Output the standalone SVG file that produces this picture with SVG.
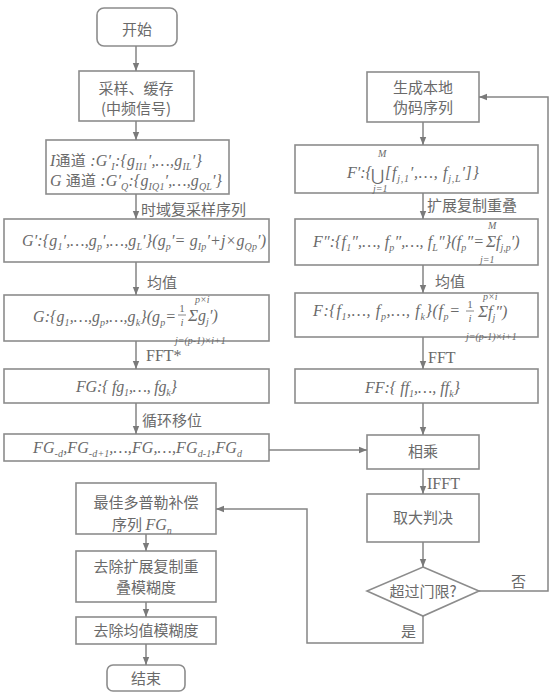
<svg xmlns="http://www.w3.org/2000/svg" width="552" height="695" viewBox="0 0 552 695">
<defs>
<marker id="ah" viewBox="0 0 10 10" refX="10" refY="5" markerWidth="9" markerHeight="8" markerUnits="userSpaceOnUse" orient="auto">
<path d="M0,1 L10,5 L0,9 z" fill="#7a7a7a"/>
</marker>
<style>
.box{fill:#fff;stroke:#8c8c8c;stroke-width:1.6}
.cn{font-family:"Noto Sans CJK SC","Noto Sans",sans-serif;font-size:15px;font-style:normal;fill:#6a6a6a}
.m{font-family:"Liberation Serif","Noto Sans CJK SC",serif;font-style:italic;font-size:16px;fill:#6a6a6a}
.r{font-family:"Liberation Serif",serif;font-style:normal;font-size:16px;fill:#6a6a6a}
.s{font-size:10px}
.fr{font-size:11px}
.ln{fill:none;stroke:#858585;stroke-width:1.5}
.c{text-anchor:middle}
</style>
</defs>
<rect width="552" height="695" fill="#fff"/>

<g id="start"><rect class="box" x="97" y="8" width="80" height="38" rx="7"/><text class="cn c" x="137" y="35">开始</text></g>
<g id="sample"><rect class="box" x="79" y="71" width="115" height="50"/><text class="cn c" x="136" y="94">采样、缓存</text><text class="cn c" x="136" y="114">(中频信号)</text></g>
<g id="iq"><rect class="box" x="46" y="140" width="183" height="54"/>
<text class="m" x="50" y="166" textLength="152">I<tspan class="cn">通道</tspan> :G′<tspan class="s" dy="4">I</tspan><tspan dy="-4">:{g</tspan><tspan class="s" dy="4">II1</tspan><tspan dy="-4">′,…,g</tspan><tspan class="s" dy="4">IL</tspan><tspan dy="-4">′}</tspan></text>
<text class="m" x="50" y="186" textLength="172">G <tspan class="cn">通道</tspan> :G′<tspan class="s" dy="4">Q</tspan><tspan dy="-4">:{g</tspan><tspan class="s" dy="4">IQ1</tspan><tspan dy="-4">′,…,g</tspan><tspan class="s" dy="4">QL</tspan><tspan dy="-4">′}</tspan></text>
</g>
<g id="gprime"><rect class="box" x="4" y="219" width="265" height="43"/>
<text class="m" x="22" y="246" textLength="244">G′:{g<tspan class="s" dy="4">1</tspan><tspan dy="-4">′,…,g</tspan><tspan class="s" dy="4">p</tspan><tspan dy="-4">′,…,g</tspan><tspan class="s" dy="4">L</tspan><tspan dy="-4">′}(g</tspan><tspan class="s" dy="4">p</tspan><tspan dy="-4">′= g</tspan><tspan class="s" dy="4">Ip</tspan><tspan dy="-4">′+j×g</tspan><tspan class="s" dy="4">Qp</tspan><tspan dy="-4">′)</tspan></text>
</g>
<g id="gmean"><rect class="box" x="4" y="295" width="265" height="46"/>
<text class="m" x="33" y="322" textLength="143">G:{g<tspan class="s" dy="4">1</tspan><tspan dy="-4">,…,g</tspan><tspan class="s" dy="4">p</tspan><tspan dy="-4">,…,g</tspan><tspan class="s" dy="4">k</tspan><tspan dy="-4">}(g</tspan><tspan class="s" dy="4">p</tspan><tspan dy="-4">=</tspan></text>
<text class="m c fr" x="182" y="312" style="font-style:normal">1</text>
<line x1="178" y1="315" x2="186" y2="315" stroke="#6a6a6a" stroke-width="0.8"/>
<text class="m c fr" x="182" y="326">i</text>
<text class="m" x="188" y="321"><tspan font-size="17">Σ</tspan>g<tspan class="s" dy="4">j</tspan><tspan dy="-4">′)</tspan></text>
<text class="m s" x="195" y="303">p×i</text>
<text class="m s" x="175" y="344">j=(p-1)×i+1</text>
</g>
<g id="fg"><rect class="box" x="4" y="369" width="265" height="34"/>
<text class="m" x="76" y="392" textLength="101">FG:{ fg<tspan class="s" dy="4">1</tspan><tspan dy="-4">,…, fg</tspan><tspan class="s" dy="4">k</tspan><tspan dy="-4">}</tspan></text>
</g>
<g id="fgd"><rect class="box" x="4" y="434" width="265" height="27"/>
<text class="m" x="33" y="453" textLength="209">FG<tspan class="s" dy="4">-d</tspan><tspan dy="-4">,FG</tspan><tspan class="s" dy="4">-d+1</tspan><tspan dy="-4">,…,FG,…,FG</tspan><tspan class="s" dy="4">d-1</tspan><tspan dy="-4">,FG</tspan><tspan class="s" dy="4">d</tspan></text>
</g>
<g id="best"><rect class="box" x="76" y="483" width="140" height="51"/>
<text class="cn c" x="146" y="508">最佳多普勒补偿</text>
<text class="cn" x="112" y="530">序列 <tspan class="m">FG</tspan><tspan class="m s" dy="4">n</tspan></text>
</g>
<g id="rm1"><rect class="box" x="76" y="551" width="140" height="51"/>
<text class="cn c" x="146" y="572">去除扩展复制重</text><text class="cn c" x="146" y="593">叠模糊度</text></g>
<g id="rm2"><rect class="box" x="76" y="617" width="140" height="27"/><text class="cn c" x="146" y="636">去除均值模糊度</text></g>
<g id="end"><rect class="box" x="107" y="665" width="78" height="26" rx="6"/><text class="cn c" x="146" y="684">结束</text></g>

<g id="gen"><rect class="box" x="367" y="72" width="112" height="50"/><text class="cn c" x="423" y="93">生成本地</text><text class="cn c" x="423" y="113">伪码序列</text></g>
<g id="fprime"><rect class="box" x="295" y="145" width="243" height="48"/>
<text class="m" x="347" y="178">F′:{</text>
<text class="m" x="371" y="181" font-size="19" style="font-style:normal">⋃</text>
<text class="m s" x="378" y="157">M</text>
<text class="m s" x="373" y="192">j=1</text>
<text class="m" x="385" y="178" textLength="94">[f<tspan class="s" dy="4">j,1</tspan><tspan dy="-4">′,…, f</tspan><tspan class="s" dy="4">j,L</tspan><tspan dy="-4">′]}</tspan></text>
</g>
<g id="fpp"><rect class="box" x="295" y="219" width="243" height="46"/>
<text class="m" x="313" y="247" textLength="171">F″:{f<tspan class="s" dy="4">1</tspan><tspan dy="-4">″,…, f</tspan><tspan class="s" dy="4">p</tspan><tspan dy="-4">″,…, f</tspan><tspan class="s" dy="4">L</tspan><tspan dy="-4">″}(f</tspan><tspan class="s" dy="4">p</tspan><tspan dy="-4">″=</tspan></text>
<text class="m" x="486" y="247"><tspan font-size="17">Σ</tspan>f<tspan class="s" dy="4">j,p</tspan><tspan dy="-4">′)</tspan></text>
<text class="m s" x="488" y="229">M</text>
<text class="m s" x="480" y="263">j=1</text>
</g>
<g id="fmean"><rect class="box" x="295" y="293" width="243" height="44"/>
<text class="m" x="313" y="316" textLength="147">F:{f<tspan class="s" dy="4">1</tspan><tspan dy="-4">,…, f</tspan><tspan class="s" dy="4">p</tspan><tspan dy="-4">,…, f</tspan><tspan class="s" dy="4">k</tspan><tspan dy="-4">}(f</tspan><tspan class="s" dy="4">p</tspan><tspan dy="-4">=</tspan></text>
<text class="m c fr" x="470" y="308" style="font-style:normal">1</text>
<line x1="466" y1="311" x2="474" y2="311" stroke="#6a6a6a" stroke-width="0.8"/>
<text class="m c fr" x="470" y="322">i</text>
<text class="m" x="478" y="317"><tspan font-size="17">Σ</tspan>f<tspan class="s" dy="4">j</tspan><tspan dy="-4">″)</tspan></text>
<text class="m s" x="483" y="300">p×i</text>
<text class="m s" x="466" y="340">j=(p-1)×i+1</text>
</g>
<g id="ff"><rect class="box" x="295" y="369" width="243" height="34"/>
<text class="m" x="365" y="393" textLength="95">FF:{ ff<tspan class="s" dy="4">1</tspan><tspan dy="-4">,…, ff</tspan><tspan class="s" dy="4">k</tspan><tspan dy="-4">}</tspan></text>
</g>
<g id="mul"><rect class="box" x="367" y="435" width="112" height="34"/><text class="cn c" x="423" y="457">相乘</text></g>
<g id="maxd"><rect class="box" x="367" y="494" width="112" height="48"/><text class="cn c" x="423" y="523">取大判决</text></g>
<g id="thr"><polygon class="box" points="423,567 479,591 423,616 367,591"/><text class="cn c" x="423" y="597">超过门限?</text></g>

<g id="connectors">
<path class="ln" d="M136,46 V71" marker-end="url(#ah)"/>
<path class="ln" d="M136,121 V140" marker-end="url(#ah)"/>
<path class="ln" d="M136,194 V219" marker-end="url(#ah)"/>
<path class="ln" d="M136,262 V295" marker-end="url(#ah)"/>
<path class="ln" d="M136,341 V369" marker-end="url(#ah)"/>
<path class="ln" d="M136,403 V434" marker-end="url(#ah)"/>
<path class="ln" d="M269,450 H367" marker-end="url(#ah)"/>
<path class="ln" d="M146,534 V551" marker-end="url(#ah)"/>
<path class="ln" d="M146,602 V617" marker-end="url(#ah)"/>
<path class="ln" d="M146,644 V665" marker-end="url(#ah)"/>
<path class="ln" d="M423,122 V145" marker-end="url(#ah)"/>
<path class="ln" d="M423,193 V219" marker-end="url(#ah)"/>
<path class="ln" d="M423,265 V293" marker-end="url(#ah)"/>
<path class="ln" d="M423,337 V369" marker-end="url(#ah)"/>
<path class="ln" d="M423,403 V435" marker-end="url(#ah)"/>
<path class="ln" d="M423,469 V494" marker-end="url(#ah)"/>
<path class="ln" d="M423,542 V567" marker-end="url(#ah)"/>
<path class="ln" d="M479,591 H548 V97 H479" marker-end="url(#ah)"/>
<path class="ln" d="M423,616 V643 H307 V509 H216" marker-end="url(#ah)"/>
<text class="cn" x="141" y="215">时域复采样序列</text>
<text class="cn" x="147" y="288">均值</text>
<text class="r" x="146" y="361">FFT*</text>
<text class="cn" x="142" y="426">循环移位</text>
<text class="cn" x="427" y="211">扩展复制重叠</text>
<text class="cn" x="435" y="287">均值</text>
<text class="r" x="428" y="363">FFT</text>
<text class="r" x="427" y="489">IFFT</text>
<text class="cn" x="511" y="587">否</text>
<text class="cn" x="401" y="637">是</text>
</g>
</svg>
